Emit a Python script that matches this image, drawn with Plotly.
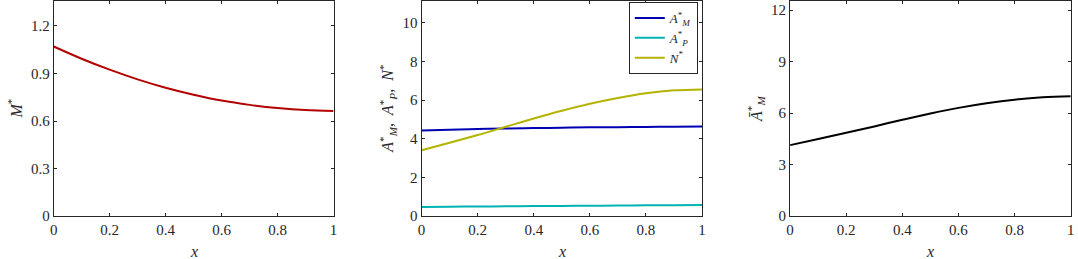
import plotly.graph_objects as go

# ---- data ----
x_vals = [0.0, 0.1, 0.2, 0.3, 0.4, 0.5, 0.6, 0.7, 0.8, 0.9, 1.0]
M_star = [1.070, 0.993, 0.924, 0.863, 0.810, 0.766, 0.729, 0.702, 0.682, 0.669, 0.664]
A_M_star = [4.43, 4.47, 4.50, 4.53, 4.55, 4.57, 4.59, 4.60, 4.61, 4.62, 4.63]
A_P_star = [0.48, 0.49, 0.50, 0.51, 0.52, 0.53, 0.54, 0.55, 0.56, 0.57, 0.58]
N_star = [3.41, 3.79, 4.19, 4.62, 5.05, 5.45, 5.81, 6.11, 6.35, 6.50, 6.55]
Abar_M_star = [4.14, 4.50, 4.86, 5.23, 5.62, 5.98, 6.31, 6.58, 6.79, 6.93, 6.99]

x_ticks = [0, 0.2, 0.4, 0.6, 0.8, 1]
x_tick_text = ["0", "0.2", "0.4", "0.6", "0.8", "1"]
y1_ticks = [0, 0.3, 0.6, 0.9, 1.2]
y2_ticks = [0, 2, 4, 6, 8, 10]
y3_ticks = [0, 3, 6, 9, 12]

FONT = "Liberation Serif, DejaVu Serif, serif"
AX = "#262626"

fig = go.Figure()
fig.add_trace(go.Scatter(x=x_vals, y=M_star, mode="lines", line=dict(color="#B30000", width=2, shape="spline"),
                         showlegend=False, xaxis="x", yaxis="y"))
fig.add_trace(go.Scatter(x=x_vals, y=A_M_star, mode="lines", line=dict(color="#0000B3", width=2, shape="spline"),
                         name="<i>A</i><sup>*</sup><sub><i>M</i></sub>", xaxis="x2", yaxis="y2"))
fig.add_trace(go.Scatter(x=x_vals, y=A_P_star, mode="lines", line=dict(color="#00B3B3", width=2, shape="spline"),
                         name="<i>A</i><sup>*</sup><sub><i>P</i></sub>", xaxis="x2", yaxis="y2"))
fig.add_trace(go.Scatter(x=x_vals, y=N_star, mode="lines", line=dict(color="#B3B300", width=2, shape="spline"),
                         name="<i>N</i><sup>*</sup>", xaxis="x2", yaxis="y2"))
fig.add_trace(go.Scatter(x=x_vals, y=Abar_M_star, mode="lines", line=dict(color="#000000", width=2, shape="spline"),
                         showlegend=False, xaxis="x3", yaxis="y3"))

W, H = 1078, 259
FIG_H = 267  # rendered page appears to be captured ~267px tall and rescaled to 259
ydom = [43 / H, (H - 0.5) / H]
xdoms = [[50 / W, 332 / W], [420.7 / W, 703.3 / W], [792 / W, 1074.7 / W]]
yranges = [[0, 1.354], [0, 11.09], [0, 12.51]]
yticks = [y1_ticks, y2_ticks, y3_ticks]

def xaxis(dom, anchor):
    return dict(domain=dom, anchor=anchor, range=[0, 1], tickvals=x_ticks, ticktext=x_tick_text,
                ticks="inside", ticklen=3, tickcolor=AX, showline=True, linecolor=AX, linewidth=1,
                mirror="ticks", showgrid=False, zeroline=False,
                tickfont=dict(family=FONT, size=15, color=AX))

def yaxis(rng, tv, anchor):
    return dict(domain=ydom, anchor=anchor, range=rng, tickvals=tv,
                ticks="inside", ticklen=3, tickcolor=AX, showline=True, linecolor=AX, linewidth=1,
                mirror="ticks", showgrid=False, zeroline=False,
                tickfont=dict(family=FONT, size=15, color=AX))

layout = dict(
    width=W, height=FIG_H, margin=dict(l=0, r=0, t=0, b=0),
    paper_bgcolor="white", plot_bgcolor="white",
    xaxis=xaxis(xdoms[0], "y"), yaxis=yaxis(yranges[0], yticks[0], "x"),
    xaxis2=xaxis(xdoms[1], "y2"), yaxis2=yaxis(yranges[1], yticks[1], "x2"),
    xaxis3=xaxis(xdoms[2], "y3"), yaxis3=yaxis(yranges[2], yticks[2], "x3"),
    legend=dict(x=699 / W, y=(H - 1) / H, xanchor="right", yanchor="top",
                bordercolor=AX, borderwidth=1, bgcolor="white",
                font=dict(family=FONT, size=13, color=AX), tracegroupgap=0,
                itemwidth=30),
    showlegend=True,
)
fig.update_layout(**layout)

ann_font = dict(family=FONT, size=16, color=AX)
xcenters = [191, 562, 933]
for xc in xcenters:
    fig.add_annotation(text="<i>x</i>", x=xc / W, y=(H - 251) / H, xref="paper", yref="paper",
                       showarrow=False, font=ann_font, xanchor="center", yanchor="middle")
ytitles = [("<i>M</i><sup>*</sup>", 11), ("<i>A</i><sup>*</sup><sub><i>M</i></sub>,  <i>A</i><sup>*</sup><sub><i>P</i></sub>,  <i>N</i><sup>*</sup>", 386),
           ("<i>Ā</i><sup>*</sup><sub><i>M</i></sub>", 757)]
for txt, xc in ytitles:
    fig.add_annotation(text=txt, x=xc / W, y=(H - 108) / H, xref="paper", yref="paper",
                       showarrow=False, font=ann_font, textangle=-90, xanchor="center", yanchor="middle")

css = ("document.documentElement.style.margin='0';"
       "document.body.style.margin='0';document.body.style.padding='0';")
fig.write_html("out.html", config={"displayModeBar": False}, post_script=css)
